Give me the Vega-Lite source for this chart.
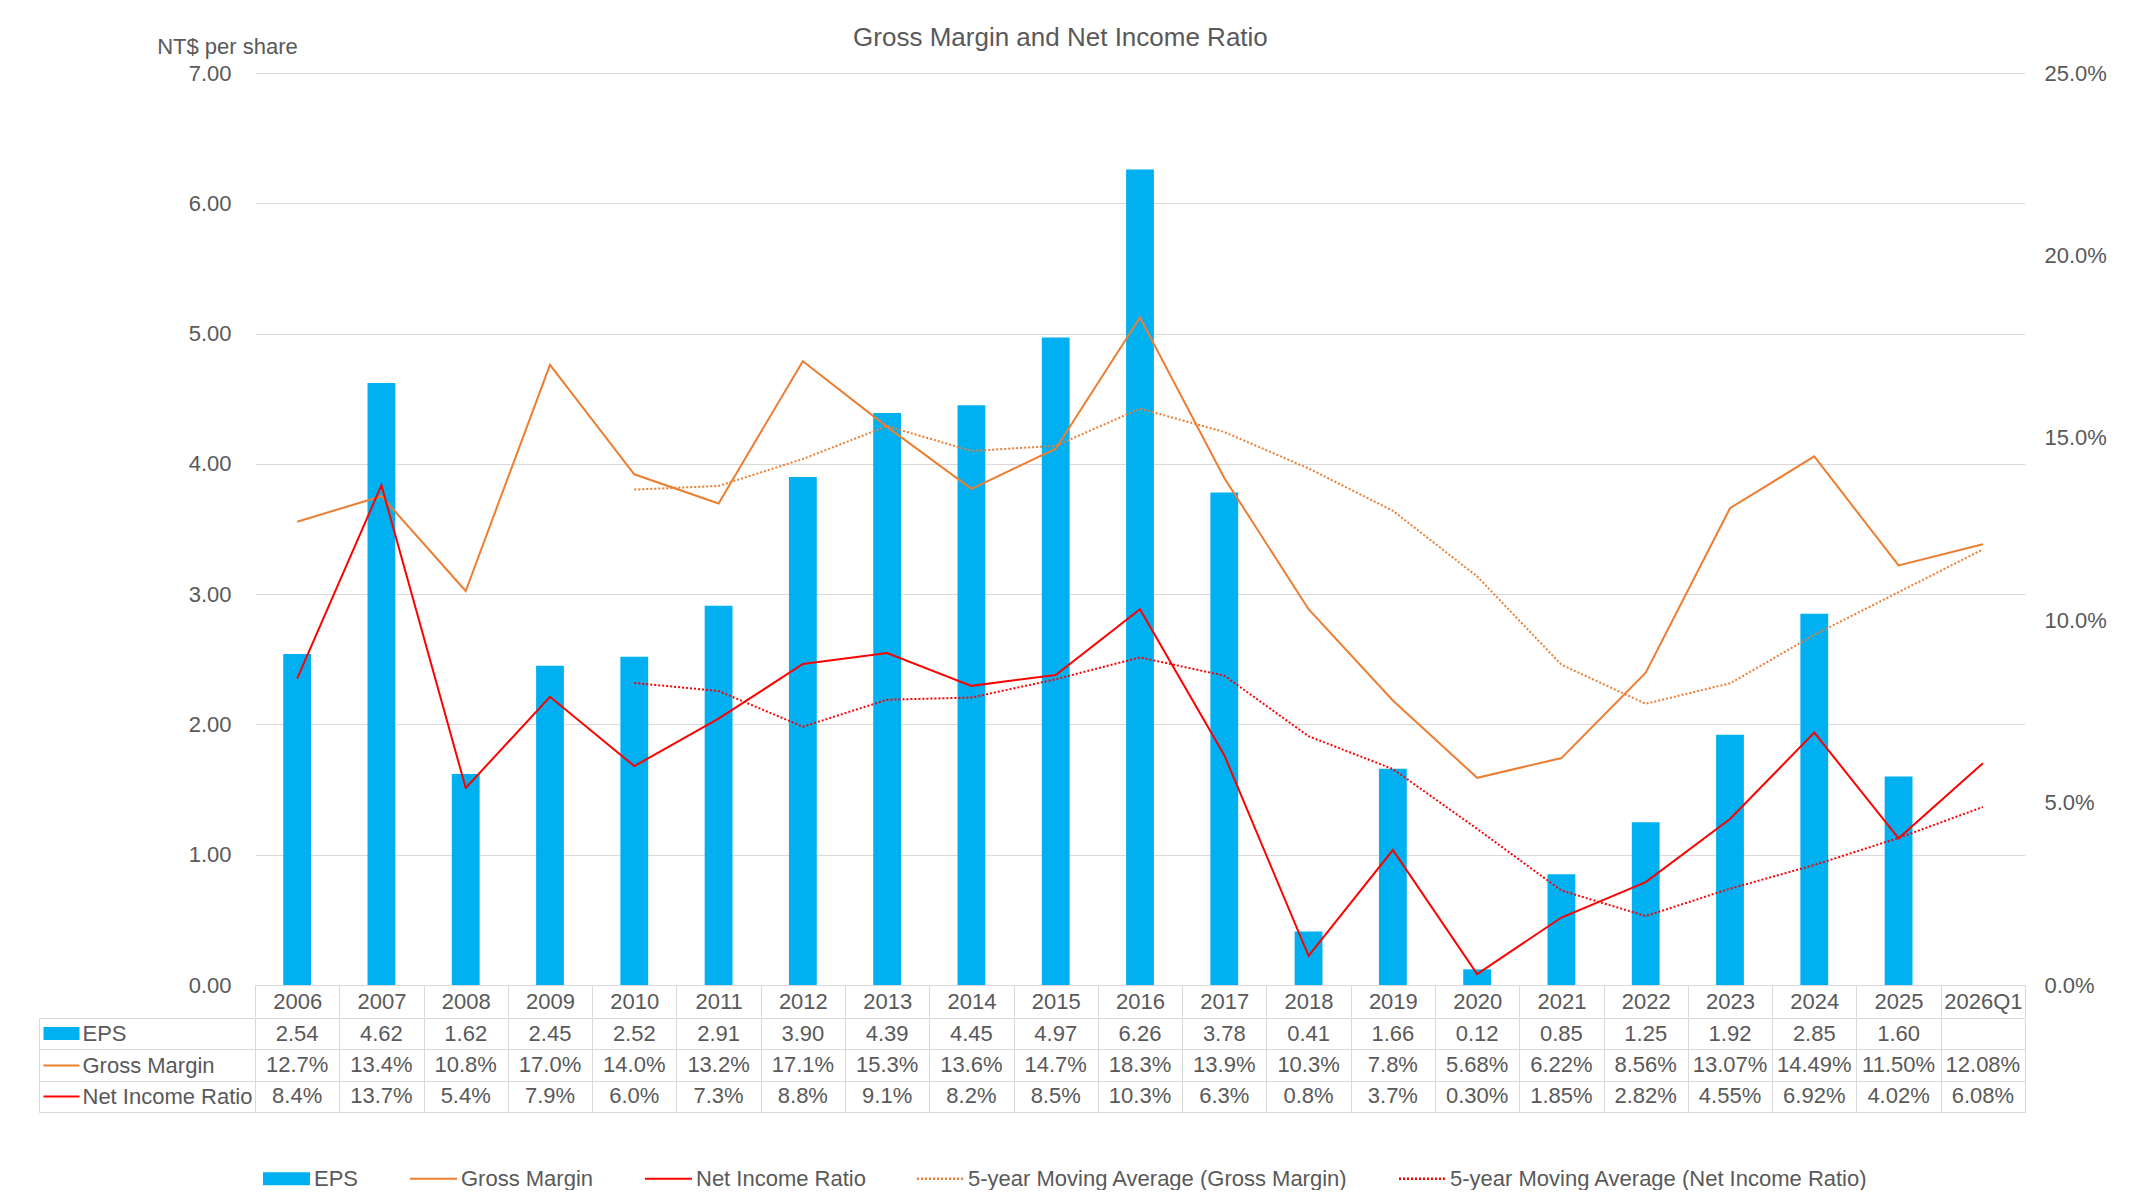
{
  "$schema": "https://vega.github.io/schema/vega-lite/v6.json",
  "padding": {"left": 36, "top": 24, "right": 5, "bottom": 0},
  "background": "white",
  "config": {
    "font": "Liberation Sans",
    "view": {"stroke": null},
    "concat": {"spacing": 0},
    "axis": {
      "labelFont": "Liberation Sans", "labelFontSize": 22, "labelColor": "#595959",
      "titleFont": "Liberation Sans", "titleColor": "#595959", "titleFontWeight": "normal",
      "gridColor": "#d9d9d9", "domainColor": "#d9d9d9", "tickColor": "#d9d9d9"
    }
  },
  "title": {
    "text": "Gross Margin and Net Income Ratio", "fontSize": 26, "font": "Liberation Sans",
    "fontWeight": "normal", "color": "#595959", "anchor": "middle", "offset": -15, "dx": -11
  },
  "datasets": {
    "main": [
      {"period": "2006", "eps": 2.54, "gm": 12.7, "ni": 8.4, "gm_ma": null, "ni_ma": null},
      {"period": "2007", "eps": 4.62, "gm": 13.4, "ni": 13.7, "gm_ma": null, "ni_ma": null},
      {"period": "2008", "eps": 1.62, "gm": 10.8, "ni": 5.4, "gm_ma": null, "ni_ma": null},
      {"period": "2009", "eps": 2.45, "gm": 17.0, "ni": 7.9, "gm_ma": null, "ni_ma": null},
      {"period": "2010", "eps": 2.52, "gm": 14.0, "ni": 6.0, "gm_ma": 13.58, "ni_ma": 8.28},
      {"period": "2011", "eps": 2.91, "gm": 13.2, "ni": 7.3, "gm_ma": 13.68, "ni_ma": 8.06},
      {"period": "2012", "eps": 3.90, "gm": 17.1, "ni": 8.8, "gm_ma": 14.42, "ni_ma": 7.08},
      {"period": "2013", "eps": 4.39, "gm": 15.3, "ni": 9.1, "gm_ma": 15.32, "ni_ma": 7.82},
      {"period": "2014", "eps": 4.45, "gm": 13.6, "ni": 8.2, "gm_ma": 14.64, "ni_ma": 7.88},
      {"period": "2015", "eps": 4.97, "gm": 14.7, "ni": 8.5, "gm_ma": 14.78, "ni_ma": 8.38},
      {"period": "2016", "eps": 6.26, "gm": 18.3, "ni": 10.3, "gm_ma": 15.80, "ni_ma": 8.98},
      {"period": "2017", "eps": 3.78, "gm": 13.9, "ni": 6.3, "gm_ma": 15.16, "ni_ma": 8.48},
      {"period": "2018", "eps": 0.41, "gm": 10.3, "ni": 0.8, "gm_ma": 14.16, "ni_ma": 6.82},
      {"period": "2019", "eps": 1.66, "gm": 7.8, "ni": 3.7, "gm_ma": 13.00, "ni_ma": 5.92},
      {"period": "2020", "eps": 0.12, "gm": 5.68, "ni": 0.30, "gm_ma": 11.20, "ni_ma": 4.28},
      {"period": "2021", "eps": 0.85, "gm": 6.22, "ni": 1.85, "gm_ma": 8.78, "ni_ma": 2.59},
      {"period": "2022", "eps": 1.25, "gm": 8.56, "ni": 2.82, "gm_ma": 7.71, "ni_ma": 1.89},
      {"period": "2023", "eps": 1.92, "gm": 13.07, "ni": 4.55, "gm_ma": 8.27, "ni_ma": 2.64},
      {"period": "2024", "eps": 2.85, "gm": 14.49, "ni": 6.92, "gm_ma": 9.60, "ni_ma": 3.29},
      {"period": "2025", "eps": 1.60, "gm": 11.50, "ni": 4.02, "gm_ma": 10.77, "ni_ma": 4.03},
      {"period": "2026Q1", "eps": null, "gm": 12.08, "ni": 6.08, "gm_ma": 11.94, "ni_ma": 4.88}
    ],
    "table": [
      {"p": "2006", "r": "EPS", "v": "2.54"}, {"p": "2007", "r": "EPS", "v": "4.62"}, {"p": "2008", "r": "EPS", "v": "1.62"},
      {"p": "2009", "r": "EPS", "v": "2.45"}, {"p": "2010", "r": "EPS", "v": "2.52"}, {"p": "2011", "r": "EPS", "v": "2.91"},
      {"p": "2012", "r": "EPS", "v": "3.90"}, {"p": "2013", "r": "EPS", "v": "4.39"}, {"p": "2014", "r": "EPS", "v": "4.45"},
      {"p": "2015", "r": "EPS", "v": "4.97"}, {"p": "2016", "r": "EPS", "v": "6.26"}, {"p": "2017", "r": "EPS", "v": "3.78"},
      {"p": "2018", "r": "EPS", "v": "0.41"}, {"p": "2019", "r": "EPS", "v": "1.66"}, {"p": "2020", "r": "EPS", "v": "0.12"},
      {"p": "2021", "r": "EPS", "v": "0.85"}, {"p": "2022", "r": "EPS", "v": "1.25"}, {"p": "2023", "r": "EPS", "v": "1.92"},
      {"p": "2024", "r": "EPS", "v": "2.85"}, {"p": "2025", "r": "EPS", "v": "1.60"}, {"p": "2026Q1", "r": "EPS", "v": ""},
      {"p": "2006", "r": "Gross Margin", "v": "12.7%"}, {"p": "2007", "r": "Gross Margin", "v": "13.4%"}, {"p": "2008", "r": "Gross Margin", "v": "10.8%"},
      {"p": "2009", "r": "Gross Margin", "v": "17.0%"}, {"p": "2010", "r": "Gross Margin", "v": "14.0%"}, {"p": "2011", "r": "Gross Margin", "v": "13.2%"},
      {"p": "2012", "r": "Gross Margin", "v": "17.1%"}, {"p": "2013", "r": "Gross Margin", "v": "15.3%"}, {"p": "2014", "r": "Gross Margin", "v": "13.6%"},
      {"p": "2015", "r": "Gross Margin", "v": "14.7%"}, {"p": "2016", "r": "Gross Margin", "v": "18.3%"}, {"p": "2017", "r": "Gross Margin", "v": "13.9%"},
      {"p": "2018", "r": "Gross Margin", "v": "10.3%"}, {"p": "2019", "r": "Gross Margin", "v": "7.8%"}, {"p": "2020", "r": "Gross Margin", "v": "5.68%"},
      {"p": "2021", "r": "Gross Margin", "v": "6.22%"}, {"p": "2022", "r": "Gross Margin", "v": "8.56%"}, {"p": "2023", "r": "Gross Margin", "v": "13.07%"},
      {"p": "2024", "r": "Gross Margin", "v": "14.49%"}, {"p": "2025", "r": "Gross Margin", "v": "11.50%"}, {"p": "2026Q1", "r": "Gross Margin", "v": "12.08%"},
      {"p": "2006", "r": "Net Income Ratio", "v": "8.4%"}, {"p": "2007", "r": "Net Income Ratio", "v": "13.7%"}, {"p": "2008", "r": "Net Income Ratio", "v": "5.4%"},
      {"p": "2009", "r": "Net Income Ratio", "v": "7.9%"}, {"p": "2010", "r": "Net Income Ratio", "v": "6.0%"}, {"p": "2011", "r": "Net Income Ratio", "v": "7.3%"},
      {"p": "2012", "r": "Net Income Ratio", "v": "8.8%"}, {"p": "2013", "r": "Net Income Ratio", "v": "9.1%"}, {"p": "2014", "r": "Net Income Ratio", "v": "8.2%"},
      {"p": "2015", "r": "Net Income Ratio", "v": "8.5%"}, {"p": "2016", "r": "Net Income Ratio", "v": "10.3%"}, {"p": "2017", "r": "Net Income Ratio", "v": "6.3%"},
      {"p": "2018", "r": "Net Income Ratio", "v": "0.8%"}, {"p": "2019", "r": "Net Income Ratio", "v": "3.7%"}, {"p": "2020", "r": "Net Income Ratio", "v": "0.30%"},
      {"p": "2021", "r": "Net Income Ratio", "v": "1.85%"}, {"p": "2022", "r": "Net Income Ratio", "v": "2.82%"}, {"p": "2023", "r": "Net Income Ratio", "v": "4.55%"},
      {"p": "2024", "r": "Net Income Ratio", "v": "6.92%"}, {"p": "2025", "r": "Net Income Ratio", "v": "4.02%"}, {"p": "2026Q1", "r": "Net Income Ratio", "v": "6.08%"}
    ],
    "legend": [
      {"s": "EPS"}, {"s": "Gross Margin"}, {"s": "Net Income Ratio"},
      {"s": "5-year Moving Average (Gross Margin)"}, {"s": "5-year Moving Average (Net Income Ratio)"}
    ]
  },
  "spacing": -14,
  "vconcat": [
    {
      "width": 1770,
      "height": 912,
      "data": {"name": "main"},
      "encoding": {
        "x": {
          "field": "period", "type": "nominal",
          "scale": {"domain": ["2006","2007","2008","2009","2010","2011","2012","2013","2014","2015","2016","2017","2018","2019","2020","2021","2022","2023","2024","2025","2026Q1"], "paddingInner": 0, "paddingOuter": 0},
          "axis": {"title": null, "orient": "bottom", "domain": false, "grid": false, "ticks": true, "tickBand": "extent", "tickSize": 32, "labelPadding": -16, "labelBaseline": "middle", "labelAngle": 0}
        }
      },
      "layer": [
        {
          "mark": {"type": "bar", "color": "#00B0F0", "width": {"band": 0.33}},
          "encoding": {
            "y": {
              "field": "eps", "type": "quantitative", "scale": {"domain": [0, 7], "nice": false},
              "axis": {"title": "NT$ per share", "titleAngle": 0, "titleX": -28, "titleY": -26.5, "titleAlign": "center", "titleBaseline": "middle", "titleFontSize": 22,
                "values": [0,1,2,3,4,5,6,7], "format": ".2f", "grid": true, "domain": false, "ticks": false, "labelPadding": 24}
            }
          }
        },
        {
          "layer": [
            {
              "mark": {"type": "line", "color": "#ED7D31", "strokeWidth": 2},
              "encoding": {"y": {"field": "gm", "type": "quantitative", "scale": {"domain": [0, 25], "nice": false},
                "axis": {"orient": "right", "title": null, "values": [0,5,10,15,20,25], "labelExpr": "format(datum.value, '.1f') + '%'", "grid": false, "domain": false, "ticks": false, "labelPadding": 19}}}
            },
            {
              "mark": {"type": "line", "color": "#FF0000", "strokeWidth": 2},
              "encoding": {"y": {"field": "ni", "type": "quantitative", "title": null}}
            },
            {
              "mark": {"type": "line", "color": "#ED7D31", "strokeWidth": 2, "strokeDash": [2, 2]},
              "encoding": {"y": {"field": "gm_ma", "type": "quantitative", "title": null}}
            },
            {
              "mark": {"type": "line", "color": "#FF0000", "strokeWidth": 2, "strokeDash": [2, 2]},
              "encoding": {"y": {"field": "ni_ma", "type": "quantitative", "title": null}}
            }
          ]
        }
      ],
      "resolve": {"scale": {"y": "independent"}}
    },
    {
      "width": 1770,
      "height": 94,
      "layer": [
        {
          "data": {"name": "table"},
          "mark": {"type": "text", "fontSize": 22, "color": "#595959", "font": "Liberation Sans", "align": "center", "baseline": "middle"},
          "encoding": {
            "x": {
              "field": "p", "type": "nominal",
              "scale": {"domain": ["2006","2007","2008","2009","2010","2011","2012","2013","2014","2015","2016","2017","2018","2019","2020","2021","2022","2023","2024","2025","2026Q1"], "paddingInner": 0, "paddingOuter": 0},
              "axis": {"title": null, "orient": "bottom", "labels": false, "ticks": false, "domain": false, "grid": true, "tickBand": "extent"}
            },
            "y": {
              "field": "r", "type": "nominal",
              "scale": {"domain": ["EPS", "Gross Margin", "Net Income Ratio"], "paddingInner": 0, "paddingOuter": 0},
              "axis": {"title": null, "orient": "left", "offset": 216, "domain": true, "grid": true, "ticks": true, "tickBand": "extent", "tickSize": -216,
                "labelAlign": "left", "labelBaseline": "middle", "labelPadding": 173, "labelLimit": 0}
            },
            "text": {"field": "v"}
          }
        },
        {
          "data": {"name": "table"},
          "mark": {"type": "text", "opacity": 0},
          "encoding": {
            "x": {"field": "p", "type": "nominal"},
            "y": {
              "field": "r", "type": "nominal",
              "scale": {"domain": ["EPS", "Gross Margin", "Net Income Ratio"], "paddingInner": 0, "paddingOuter": 0},
              "axis": {"title": null, "orient": "left", "offset": 212, "domain": false, "grid": false, "labels": false, "ticks": true, "tickBand": "center", "tickSize": -36, "tickCap": "butt",
                "tickColor": {"condition": [{"test": "datum.value === 'EPS'", "value": "#00B0F0"}, {"test": "datum.value === 'Gross Margin'", "value": "#ED7D31"}], "value": "#FF0000"},
                "tickWidth": {"condition": {"test": "datum.value === 'EPS'", "value": 13}, "value": 2}}
            },
            "text": {"field": "v"}
          }
        },
        {
          "data": {"name": "legend"},
          "mark": {"type": "point", "filled": true, "opacity": 0},
          "encoding": {
            "color": {
              "field": "s", "type": "nominal",
              "scale": {"domain": ["EPS", "Gross Margin", "Net Income Ratio", "5-year Moving Average (Gross Margin)", "5-year Moving Average (Net Income Ratio)"],
                "range": ["#00B0F0", "#ED7D31", "#FF0000", "#ED7D31", "#FF0000"]},
              "legend": {"title": null, "orient": "none", "legendX": 8, "legendY": 1082, "direction": "horizontal", "columns": 5,
                "symbolSize": 2209, "symbolStrokeWidth": 0, "symbolOpacity": 1, "labelFontSize": 22, "labelColor": "#595959", "labelFont": "Liberation Sans",
                "labelOffset": 4, "columnPadding": 51, "labelLimit": 0, "padding": 0}
            },
            "shape": {
              "field": "s", "type": "nominal",
              "scale": {"domain": ["EPS", "Gross Margin", "Net Income Ratio", "5-year Moving Average (Gross Margin)", "5-year Moving Average (Net Income Ratio)"],
                "range": [
                  "M-1,-0.28H1V0.28H-1Z",
                  "M-1,-0.045H1V0.045H-1Z",
                  "M-1,-0.045H1V0.045H-1Z",
                  "M-1,-0.05h0.085v0.1h-0.085Z M-0.83,-0.05h0.085v0.1h-0.085Z M-0.66,-0.05h0.085v0.1h-0.085Z M-0.49,-0.05h0.085v0.1h-0.085Z M-0.32,-0.05h0.085v0.1h-0.085Z M-0.15,-0.05h0.085v0.1h-0.085Z M0.02,-0.05h0.085v0.1h-0.085Z M0.19,-0.05h0.085v0.1h-0.085Z M0.36,-0.05h0.085v0.1h-0.085Z M0.53,-0.05h0.085v0.1h-0.085Z M0.7,-0.05h0.085v0.1h-0.085Z M0.87,-0.05h0.085v0.1h-0.085Z",
                  "M-1,-0.05h0.085v0.1h-0.085Z M-0.83,-0.05h0.085v0.1h-0.085Z M-0.66,-0.05h0.085v0.1h-0.085Z M-0.49,-0.05h0.085v0.1h-0.085Z M-0.32,-0.05h0.085v0.1h-0.085Z M-0.15,-0.05h0.085v0.1h-0.085Z M0.02,-0.05h0.085v0.1h-0.085Z M0.19,-0.05h0.085v0.1h-0.085Z M0.36,-0.05h0.085v0.1h-0.085Z M0.53,-0.05h0.085v0.1h-0.085Z M0.7,-0.05h0.085v0.1h-0.085Z M0.87,-0.05h0.085v0.1h-0.085Z"
                ]},
              "legend": {"title": null, "orient": "none", "legendX": 8, "legendY": 1082, "direction": "horizontal", "columns": 5,
                "symbolSize": 2209, "symbolStrokeWidth": 0, "symbolOpacity": 1, "labelFontSize": 22, "labelColor": "#595959", "labelFont": "Liberation Sans",
                "labelOffset": 4, "columnPadding": 51, "labelLimit": 0, "padding": 0}
            }
          }
        }
      ],
      "resolve": {"scale": {"y": "independent"}, "axis": {"y": "independent"}}
    }
  ]
}
